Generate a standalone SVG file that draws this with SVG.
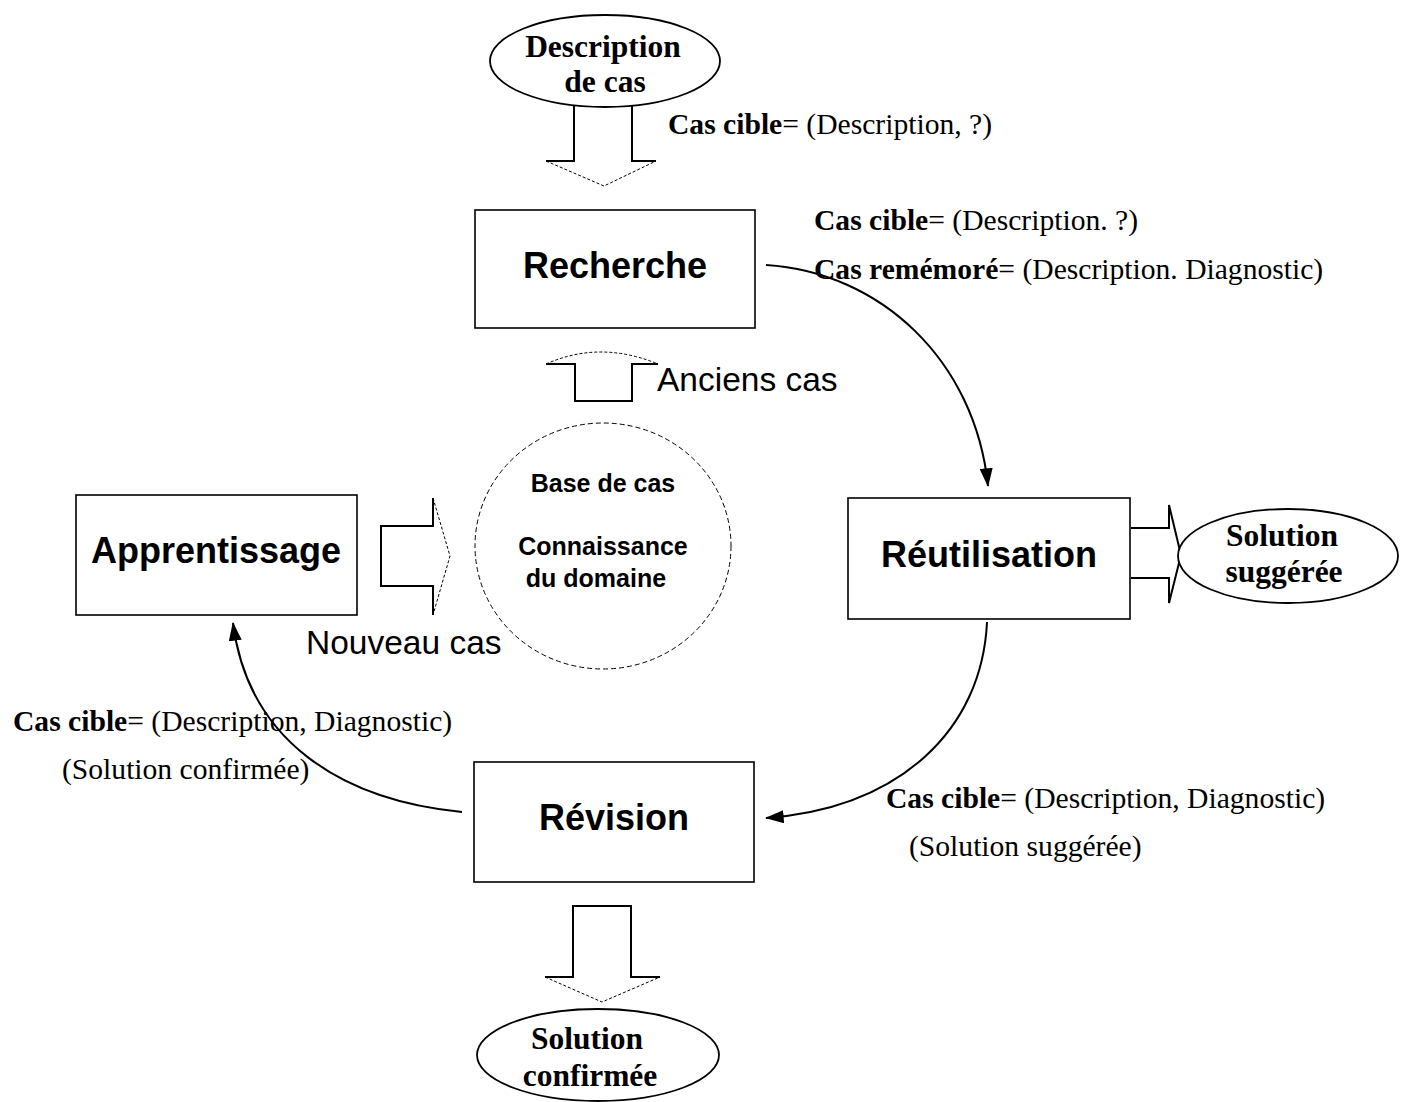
<svg xmlns="http://www.w3.org/2000/svg" width="1407" height="1102" viewBox="0 0 1407 1102">
  <style>
    .box { fill: #fff; stroke: #000; stroke-width: 1.6; }
    .oval { fill: #fff; stroke: #000; stroke-width: 1.8; }
    .base { fill: none; stroke: #000; stroke-width: 1; stroke-dasharray: 5 3; }
    .shaft { fill: none; stroke: #000; stroke-width: 2; }
    .tipline { fill: none; stroke: #000; stroke-width: 1; stroke-dasharray: 3 2; }
    .flow { fill: none; stroke: #000; stroke-width: 2; }
    .title { font-family: "Liberation Sans", Arial, sans-serif; font-weight: bold; font-size: 36px; fill: #000; text-anchor: middle; }
    .ovaltxt { font-family: "Liberation Serif", "Times New Roman", serif; font-weight: bold; font-size: 31.5px; fill: #000; text-anchor: middle; }
    .note { font-family: "Liberation Serif", "Times New Roman", serif; font-size: 29.6px; fill: #000; }
    .note tspan.b { font-weight: bold; }
    .label { font-family: "Liberation Sans", Arial, sans-serif; font-size: 33.5px; fill: #000; }
    .kb { font-family: "Liberation Sans", Arial, sans-serif; font-weight: bold; font-size: 25px; fill: #000; text-anchor: middle; }
  </style>
  <defs>
    <marker id="head" viewBox="0 0 20 14" refX="19" refY="7" markerWidth="19" markerHeight="13" markerUnits="userSpaceOnUse" orient="auto">
      <path d="M0,0 L20,7 L0,14 Z" fill="#000"/>
    </marker>
  </defs>

  <rect width="1407" height="1102" fill="#fff"/>

  <!-- curved flows between the four steps -->
  <g id="connectors">
    <path class="flow" d="M766,265 C880,272 975,360 988,486" marker-end="url(#head)"/>
    <path class="flow" d="M987,622 C982,730 900,808 766,818" marker-end="url(#head)"/>
    <path class="flow" d="M462,812 C340,800 248,740 233,623" marker-end="url(#head)"/>

    <!-- block arrow: case description into search -->
    <polyline class="shaft" points="574,106 574,161 546,161"/>
    <polyline class="shaft" points="632,106 632,161 656,161"/>
    <polyline class="tipline" points="546,161 604,186 656,161"/>

    <!-- block arrow: stored cases up to search -->
    <polyline class="shaft" points="546,364 575,364 575,401 632,401 632,364 658,364"/>
    <path class="tipline" d="M546,364 Q600,340 658,364"/>

    <!-- block arrow: new case into the base -->
    <polyline class="shaft" points="433,498 433,526 381,526 381,586 433,586 433,615"/>
    <polyline class="tipline" points="433,498 450,556 433,615"/>

    <!-- block arrow: suggested solution -->
    <polyline class="shaft" points="1131,528 1169,528 1169,505 1181,555 1169,603 1169,578 1131,578"/>

    <!-- block arrow: confirmed solution -->
    <polyline class="shaft" points="545,977 573,977 573,906 631,906 631,977 660,977"/>
    <polyline class="tipline" points="545,977 602,1002 660,977"/>
  </g>

  <g id="description-cas">
    <ellipse class="oval" cx="605" cy="61" rx="115" ry="46"/>
    <text class="ovaltxt" x="603" y="57">Description</text>
    <text class="ovaltxt" x="605" y="92">de cas</text>
  </g>

  <g id="recherche">
    <rect class="box" x="475" y="210" width="280" height="118"/>
    <text class="title" x="615" y="278">Recherche</text>
  </g>

  <g id="base-de-cas">
    <ellipse class="base" cx="603" cy="546" rx="128" ry="123"/>
    <text class="kb" x="603" y="492">Base de cas</text>
    <text class="kb" x="603" y="555">Connaissance</text>
    <text class="kb" x="596" y="587">du domaine</text>
  </g>

  <g id="apprentissage">
    <rect class="box" x="76" y="495" width="281" height="120"/>
    <text class="title" x="216" y="563">Apprentissage</text>
  </g>

  <g id="reutilisation">
    <rect class="box" x="848" y="498" width="282" height="121"/>
    <text class="title" x="989" y="567">Réutilisation</text>
  </g>

  <g id="solution-suggeree">
    <ellipse class="oval" cx="1288" cy="556" rx="110" ry="47"/>
    <text class="ovaltxt" x="1282" y="546">Solution</text>
    <text class="ovaltxt" x="1284" y="582">suggérée</text>
  </g>

  <g id="revision">
    <rect class="box" x="474" y="762" width="280" height="120"/>
    <text class="title" x="614" y="830">Révision</text>
  </g>

  <g id="solution-confirmee">
    <ellipse class="oval" cx="598" cy="1055" rx="121" ry="46"/>
    <text class="ovaltxt" x="587" y="1049">Solution</text>
    <text class="ovaltxt" x="590" y="1086">confirmée</text>
  </g>

  <!-- side labels -->
  <text class="note" x="668" y="134"><tspan class="b">Cas cible</tspan>= (Description, ?)</text>
  <text class="note" x="814" y="230"><tspan class="b">Cas cible</tspan>= (Description. ?)</text>
  <text class="note" x="814" y="279"><tspan class="b">Cas remémoré</tspan>= (Description. Diagnostic)</text>
  <text class="label" x="657" y="391">Anciens cas</text>
  <text class="label" x="306" y="654">Nouveau cas</text>
  <text class="note" x="13" y="731"><tspan class="b">Cas cible</tspan>= (Description, Diagnostic)</text>
  <text class="note" x="62" y="779">(Solution confirmée)</text>
  <text class="note" x="886" y="808"><tspan class="b">Cas cible</tspan>= (Description, Diagnostic)</text>
  <text class="note" x="909" y="856">(Solution suggérée)</text>
</svg>
